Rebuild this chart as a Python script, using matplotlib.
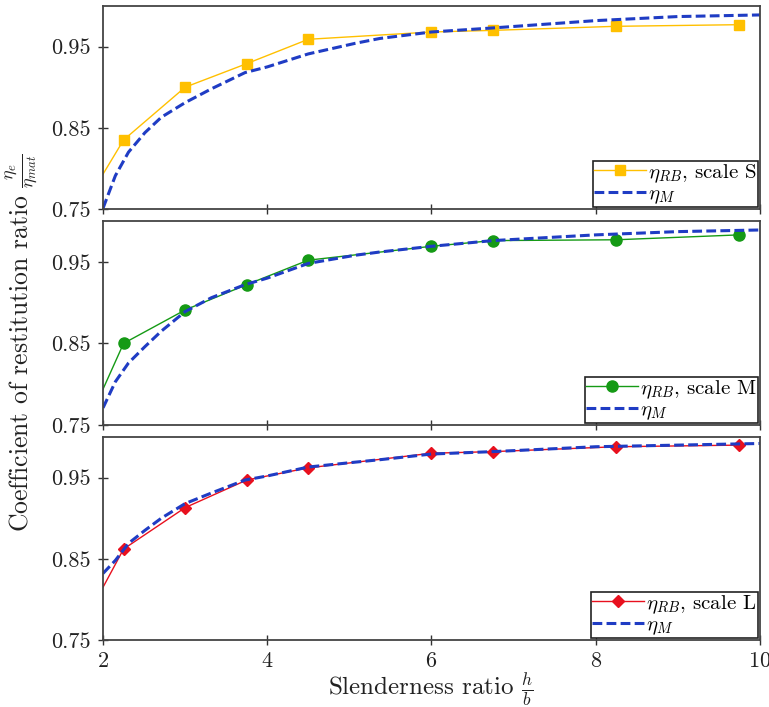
import matplotlib
matplotlib.use("Agg")
import matplotlib.pyplot as plt

plt.rcParams['font.family'] = 'serif'
plt.rcParams['font.serif'] = ['cmr10', 'DejaVu Serif']
plt.rcParams['mathtext.fontset'] = 'cm'
plt.rcParams['axes.formatter.use_mathtext'] = True

# slenderness ratios h/b of the rigid-body runs (x=2 is the line start, no marker)
hb_rb = [2.0, 2.25, 3.0, 3.75, 4.5, 6.0, 6.75, 8.25, 9.75]
eta_rb_S = [0.793, 0.835, 0.900, 0.929, 0.959, 0.968, 0.970, 0.975, 0.977]
eta_rb_M = [0.794, 0.850, 0.891, 0.922, 0.952, 0.969, 0.976, 0.977, 0.983]
eta_rb_L = [0.815, 0.862, 0.913, 0.947, 0.962, 0.980, 0.982, 0.988, 0.990]

# model curve eta_M, read at these h/b
hb_m = [2.0, 2.15, 2.31, 2.51, 2.71, 3.0, 3.32, 3.73, 4.0, 4.5, 5.07, 5.37, 6.0, 6.75, 8.0, 9.0, 10.0]
eta_m_S = [0.751, 0.791, 0.820, 0.844, 0.863, 0.881, 0.898, 0.918, 0.925, 0.941, 0.954,
           0.960, 0.968, 0.973, 0.982, 0.987, 0.989]
eta_m_M = [0.771, 0.803, 0.826, 0.846, 0.865, 0.889, 0.906, 0.922, 0.930, 0.948, 0.958,
           0.962, 0.969, 0.976, 0.983, 0.987, 0.989]
eta_m_L = [0.832, 0.848, 0.869, 0.885, 0.900, 0.918, 0.931, 0.947, 0.952, 0.963, 0.969,
           0.972, 0.979, 0.982, 0.988, 0.990, 0.992]

scales = ['S', 'M', 'L']
rb_series = [eta_rb_S, eta_rb_M, eta_rb_L]
m_series = [eta_m_S, eta_m_M, eta_m_L]
colors = ['#ffc000', '#159a15', '#e8101e']
markers = ['s', 'o', 'D']
msizes = [7.5, 8.0, 6.0]
blue = '#1f3cc4'

yticks = [0.75, 0.85, 0.95]
xticks = [2, 4, 6, 8, 10]

fig = plt.figure(figsize=(7.69, 7.07), dpi=100)
boxes = [[0.134, 0.7044, 0.854, 0.2871],
         [0.134, 0.3989, 0.854, 0.2885],
         [0.134, 0.0948, 0.854, 0.2871]]

for i in range(3):
    ax = fig.add_axes(boxes[i])
    ax.plot(hb_rb, rb_series[i], color=colors[i], lw=1.0, marker=markers[i],
            markersize=msizes[i], markevery=list(range(1, len(hb_rb))),
            label=r'$\eta_{RB}$, scale ' + scales[i])
    ax.plot(hb_m, m_series[i], color=blue, lw=2.2, linestyle=(0, (3.2, 1.4)),
            label=r'$\eta_M$')
    ax.set_xlim(2, 10)
    ax.set_ylim(0.75, 1.0)
    ax.set_yticks(yticks)
    ax.set_yticklabels(['0.75', '0.85', '0.95'])
    ax.set_xticks(xticks)
    if i < 2:
        ax.set_xticklabels([])
    ax.tick_params(direction='inout', length=7, width=1.0, labelsize=16,
                   colors='#333333', labelcolor='#222222', pad=5)
    for s in ax.spines.values():
        s.set_color('#444444')
        s.set_linewidth(1.3)
    leg = ax.legend(loc='lower right', fontsize=15, handlelength=2.5,
                    handletextpad=0.1, borderpad=0.05, labelspacing=0.0,
                    borderaxespad=0.1, fancybox=False, framealpha=1)
    leg.get_frame().set_edgecolor('#222222')
    leg.get_frame().set_linewidth(1.2)

fig.text(0.029, 0.515, r'Coefficient of restitution ratio $\frac{\eta_e}{\eta_{mat}}$',
         rotation=90, ha='center', va='center', fontsize=18.5, color='#222222')
fig.text(0.56, 0.024, r'Slenderness ratio $\frac{h}{b}$',
         ha='center', va='center', fontsize=18, color='#222222')

fig.savefig('out.png', dpi=100)
